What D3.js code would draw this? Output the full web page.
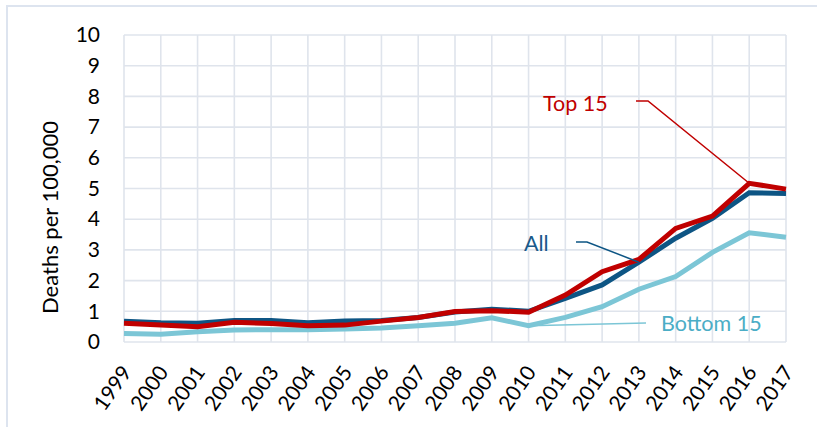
<!DOCTYPE html>
<html>
<head>
<meta charset="utf-8">
<script src="https://cdn.jsdelivr.net/npm/d3@7"></script>
<style>
  html, body { margin: 0; padding: 0; background: #fff; }
  svg { display: block; font-family: Lato, "Open Sans", sans-serif; }
</style>
</head>
<body>
<svg id="chart" width="817" height="427"></svg>
<script>
// Overdose death rates per 100,000, 1999–2017
const years = ["1999","2000","2001","2002","2003","2004","2005","2006","2007","2008","2009","2010","2011","2012","2013","2014","2015","2016","2017"];
const allStates = [0.68,0.63,0.61,0.70,0.70,0.63,0.68,0.70,0.80,0.98,1.07,1.00,1.42,1.86,2.60,3.38,4.03,4.86,4.84];
const top15     = [0.61,0.55,0.50,0.64,0.60,0.53,0.55,0.68,0.80,0.99,1.02,0.97,1.53,2.29,2.69,3.70,4.10,5.17,4.98];
const bottom15  = [0.28,0.25,0.33,0.39,0.40,0.40,0.42,0.46,0.53,0.61,0.79,0.53,0.80,1.15,1.72,2.13,2.92,3.56,3.41];
const yTicks = [0,1,2,3,4,5,6,7,8,9,10];

const svg = d3.select("#chart");
const margin = { left: 124, right: 817 - 786, top: 35, bottom: 427 - 342 };
const W = 817, H = 427;

const x = d3.scalePoint().domain(years).range([margin.left, W - margin.right]);
const y = d3.scaleLinear().domain([0, 10]).range([H - margin.bottom, margin.top]);

// outer frame (only top and left edges fall inside the view)
svg.append("path")
  .attr("d", `M7,${H} V6 H${W}`)
  .attr("fill", "none").attr("stroke", "#dde4ef").attr("stroke-width", 2);

// gridlines
const grid = svg.append("g").attr("stroke", "#dfe4ec").attr("stroke-width", 1.6);
grid.selectAll("line.h").data(yTicks).join("line")
  .attr("x1", margin.left).attr("x2", W - margin.right)
  .attr("y1", d => y(d)).attr("y2", d => y(d));
grid.selectAll("line.v").data(years).join("line")
  .attr("x1", d => x(d)).attr("x2", d => x(d))
  .attr("y1", y(0)).attr("y2", y(10));

// y axis labels
const yAxis = d3.axisLeft(y).tickValues(yTicks).tickSize(0).tickPadding(0).tickFormat(d3.format("d"));
const gy = svg.append("g").attr("transform", `translate(${margin.left - 24},0)`).call(yAxis);
gy.select(".domain").remove();
gy.selectAll("text").attr("font-size", 21).attr("fill", "#000").attr("font-family", "Lato, sans-serif");

// x axis labels, rotated
const xAxis = d3.axisBottom(x).tickSize(0).tickPadding(0);
const gx = svg.append("g").attr("transform", `translate(0,${y(0)})`).call(xAxis);
gx.select(".domain").remove();
gx.selectAll("text")
  .attr("font-size", 21).attr("fill", "#000").attr("font-family", "Lato, sans-serif")
  .attr("text-anchor", "end").attr("dy", "0.35em").attr("y", 0)
  .attr("transform", "translate(2,26) rotate(-55)");

// y axis title
svg.append("text")
  .attr("transform", `translate(58,${(margin.top + (H - margin.bottom)) / 2 + 29}) rotate(-90)`)
  .attr("text-anchor", "middle").attr("font-size", 22).attr("fill", "#000")
  .text("Deaths per 100,000");

const line = d3.line().x((d, i) => x(years[i])).y(d => y(d));

const series = [
  { name: "Bottom 15", values: bottom15, color: "#7cc6d6" },
  { name: "All", values: allStates, color: "#0d5584" },
  { name: "Top 15", values: top15, color: "#c00000" }
];
svg.append("g").selectAll("path").data(series).join("path")
  .attr("d", d => line(d.values))
  .attr("fill", "none").attr("stroke", d => d.color)
  .attr("stroke-width", 5).attr("stroke-linejoin", "miter");

// callout labels with leader lines
const callouts = [
  { text: "Top 15", color: "#c00000", lineColor: "#c00000", tx: 543, ty: 103, lx: [636, 648], ly: 101, year: "2016", values: top15 },
  { text: "All", color: "#1a5a8a", lineColor: "#0d5584", tx: 524, ty: 243, lx: [576, 587], ly: 242, year: "2013", values: allStates },
  { text: "Bottom 15", color: "#4badc6", lineColor: "#7cc6d6", tx: 661, ty: 323, lx: [646, 646], ly: 323, year: "2010", values: bottom15 }
];
callouts.forEach(c => {
  const px = x(c.year), py = y(c.values[years.indexOf(c.year)]);
  svg.append("path")
    .attr("d", `M${c.lx[0]},${c.ly} H${c.lx[1]} L${px},${py}`)
    .attr("fill", "none").attr("stroke", c.lineColor).attr("stroke-width", 1.5);
  svg.append("text")
    .attr("x", c.tx).attr("y", c.ty).attr("dy", "0.35em")
    .attr("font-size", 21.5).attr("fill", c.color)
    .text(c.text);
});
</script>
</body>
</html>
